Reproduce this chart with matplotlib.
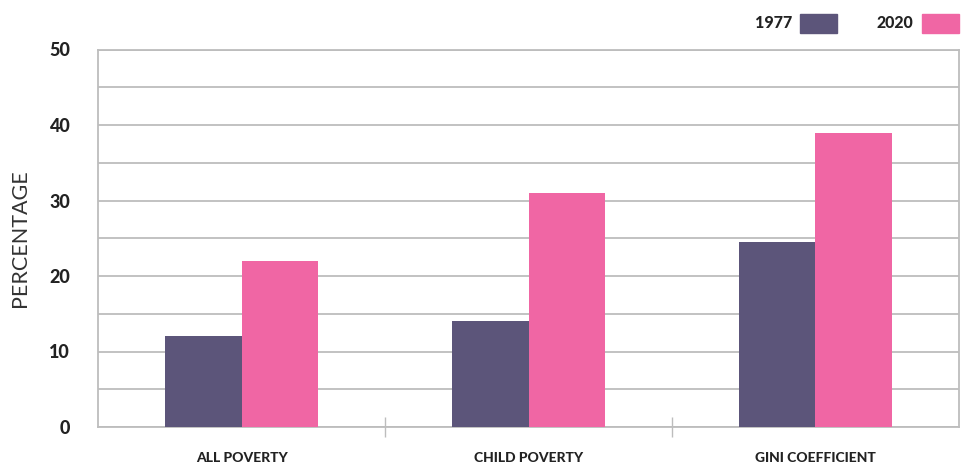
import numpy as np
import matplotlib.pyplot as plt

categories = ['ALL POVERTY', 'CHILD POVERTY', 'GINI COEFFICIENT']
years = ['1977', '2020']
vals_1977 = [12, 14, 24.5]
vals_2020 = [22, 31, 39]
colors = ['#5c557a', '#f066a4']

plt.rcParams['font.family'] = ['Lato', 'DejaVu Sans']

fig = plt.figure(figsize=(9.68, 4.63), dpi=100)
ax = fig.add_axes([98 / 968, 36 / 463, 861 / 968, 377.5 / 463])

x = np.arange(len(categories))
w = 0.265
ax.bar(x - w / 2, vals_1977, w, color=colors[0], zorder=3)
ax.bar(x + w / 2, vals_2020, w, color=colors[1], zorder=3)

ax.set_xlim(-0.5, 2.5)
ax.set_ylim(0, 50)
ax.set_yticks(np.arange(0, 51, 10))
ax.set_yticks(np.arange(5, 50, 10), minor=True)
ax.grid(axis='y', which='both', color='#bdbdbd', linewidth=1.3, zorder=0)

ax.set_xticks(x)
ax.set_xticklabels(categories, fontsize=10, fontweight='black', color='#222222')
ax.set_xticks([0.5, 1.5], minor=True)
ax.tick_params(axis='x', which='major', length=0, pad=18)
ax.tick_params(axis='x', which='minor', direction='inout', length=14, width=1, color='#bdbdbd')
ax.tick_params(axis='y', which='both', length=0, pad=20)
for lab in ax.get_yticklabels():
    lab.set_fontsize(13)
    lab.set_fontweight('black')
    lab.set_color('#222222')

for s in ax.spines.values():
    s.set_color('#bdbdbd')
    s.set_linewidth(1.3)

ax.set_ylabel('PERCENTAGE', fontsize=15.5, fontweight='normal', color='#333333', labelpad=14)

# legend
fig.text(792 / 968, 1 - 23 / 463, years[0], ha='right', va='center', fontsize=11.5, fontweight='black', color='#222222')
fig.patches.append(plt.Rectangle((800 / 968, 1 - 33 / 463), 37 / 968, 19 / 463, transform=fig.transFigure,
                                 color=colors[0], figure=fig))
fig.text(913 / 968, 1 - 23 / 463, years[1], ha='right', va='center', fontsize=11.5, fontweight='black', color='#222222')
fig.patches.append(plt.Rectangle((922 / 968, 1 - 33 / 463), 37 / 968, 19 / 463, transform=fig.transFigure,
                                 color=colors[1], figure=fig))

fig.savefig('out.png', dpi=100)
